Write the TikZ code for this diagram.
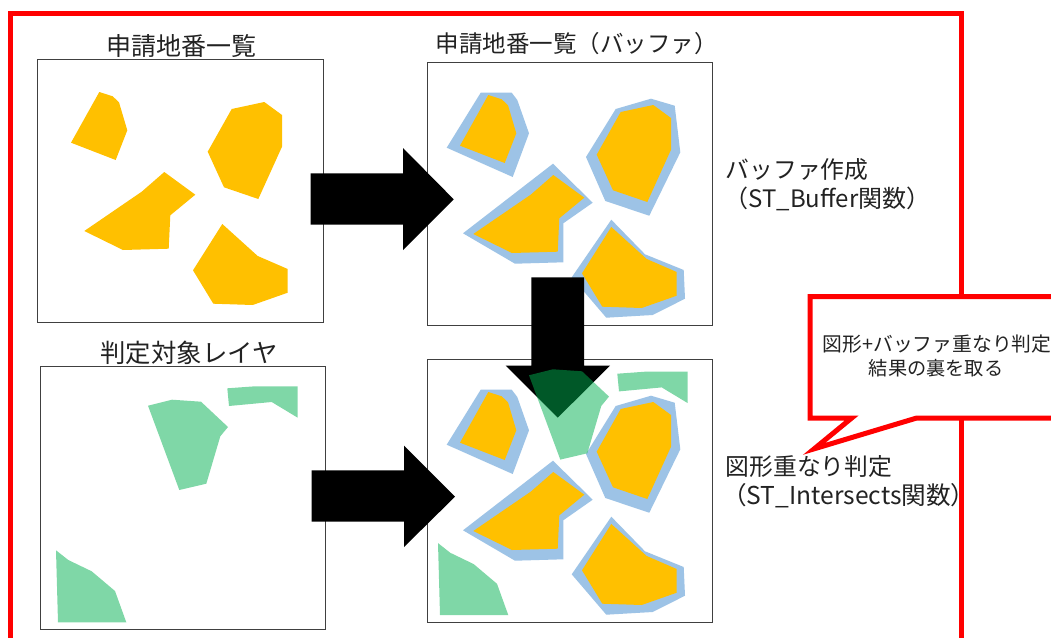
\documentclass[tikz,border=0pt]{standalone}
\usepackage{fontspec}
\setmainfont{Noto Sans CJK JP}
\definecolor{parcelc}{HTML}{FFC000}
\definecolor{bufferc}{HTML}{9DC3E6}
\definecolor{targetc}{HTML}{00B050}
\definecolor{inkc}{HTML}{222222}
\newcommand{\parcelset}{%
  \fill[parcel] (99.3,92) -- (112.7,96.3) -- (119,102.3) -- (127.3,130.3) -- (115.7,160) -- (71,142.7) -- cycle;
  \fill[parcel] (231.7,109) -- (264.3,102) -- (282,115) -- (282,146.7) -- (258.3,199) -- (224,187.3) -- (207.7,151.7) -- cycle;
  \fill[parcel] (164.3,172) -- (195.3,194.7) -- (170.3,215.3) -- (168.7,248.7) -- (123,250) -- (84.3,231) -- (141.7,191.7) -- cycle;
  \fill[parcel] (222.3,224) -- (257.7,256) -- (287.7,269) -- (287.7,292.7) -- (252.7,305) -- (213.3,303.7) -- (193,270.3) -- cycle;
}
\newcommand{\bufferset}{%
  \fill[buffer] (480.7,92.7) -- (511.7,92.7) -- (517.3,100) -- (529,133.3) -- (512.7,177) -- (446.7,147.7) -- cycle;
  \fill[buffer] (615.7,109) -- (651,98.7) -- (674.7,105.7) -- (680.3,152.3) -- (649.3,215.7) -- (605.3,201) -- (586,157) -- cycle;
  \fill[buffer] (553,163.7) -- (592.7,202.7) -- (563.3,223.3) -- (563.3,262.3) -- (515,263.7) -- (463,233.3) -- cycle;
  \fill[buffer] (611.3,219.7) -- (645,254.3) -- (683.7,270) -- (685,298.7) -- (652.7,315) -- (606.3,317.7) -- (571.7,277.3) -- cycle;
}
\tikzset{
  x=1pt,y=-1pt,
  parcel/.style={fill=parcelc},
  buffer/.style={fill=bufferc},
  target/.style={fill=targetc,fill opacity=0.5},
  mapbox/.style={draw=black!75,line width=1pt,fill=white},
  bigarrow/.style={fill=black},
  redline/.style={draw=red,line width=5pt,miter limit=20},
  label/.style={inner sep=0pt,text=inkc,font=\fontsize{25}{28}\selectfont},
  sidelabel/.style={inner sep=0pt,anchor=west,text=inkc,font=\fontsize{23.8}{27}\selectfont},
  notelabel/.style={inner sep=0pt,text=inkc,font=\fontsize{19.2}{22}\selectfont}
}
\begin{document}
\begin{tikzpicture}
\clip (0,0) rectangle (1051,637);
\fill[white] (0,0) rectangle (1051,637);
% outer frame
\draw[redline] (10.7,660) -- (10.7,13) -- (961,13) -- (961,660);
% map boxes
\draw[mapbox] (37.5,59.5) rectangle (323,322);
\draw[mapbox] (427,62.7) rectangle (712.3,325);
\draw[mapbox] (40.5,366.3) rectangle (325.7,629);
\draw[mapbox] (427,359.3) rectangle (712.3,622);
% top left
\parcelset
% top right
\bufferset
\begin{scope}[shift={(389,3)}]\parcelset\end{scope}
% bottom right
\begin{scope}[shift={(0,297)}]\bufferset\end{scope}
\begin{scope}[shift={(389,300)}]\parcelset\end{scope}
% arrows
\fill[bigarrow] (310.5,173.3) -- (403,173.3) -- (403,148) -- (453.7,199.3) -- (403,250) -- (403,224.7) -- (310.5,224.7) -- cycle;
\fill[bigarrow] (311.5,470.3) -- (404,470.3) -- (404,445.5) -- (455,496.7) -- (404,547) -- (404,521.7) -- (311.5,521.7) -- cycle;
\fill[bigarrow] (531.3,277.3) -- (584,277.3) -- (584,365.7) -- (610,365.7) -- (557.7,417.7) -- (505.7,365.7) -- (531.3,365.7) -- cycle;
% target layer
\fill[target] (148,405.7) -- (172,399.7) -- (201,401.7) -- (228,427) -- (220.3,436.3) -- (206.3,483.7) -- (179.3,490) -- cycle;
\fill[target] (227.3,388.3) -- (255,386.3) -- (297.7,386.3) -- (297.7,417.7) -- (271.7,402) -- (229,406) -- cycle;
\fill[target] (56,550.3) -- (68.3,560) -- (91.7,571.3) -- (115,591) -- (126.3,622.3) -- (58,622.3) -- cycle;
\begin{scope}[shift={(381,-30.4)}]
\fill[target] (148,405.7) -- (172,399.7) -- (201,401.7) -- (228,427) -- (220.3,436.3) -- (206.3,483.7) -- (179.3,490) -- cycle;
\end{scope}
\begin{scope}[shift={(390,-14.6)}]
\fill[target] (227.3,388.3) -- (255,386.3) -- (297.7,386.3) -- (297.7,417.7) -- (271.7,402) -- (229,406) -- cycle;
\end{scope}
\begin{scope}[shift={(382,-7.2)}]
\fill[target] (56,550.3) -- (68.3,560) -- (91.7,571.3) -- (115,591) -- (126.3,622.3) -- (58,622.3) -- cycle;
\end{scope}
% callout
\draw[redline,fill=white] (810,296.5) -- (1070,296.5) -- (1070,418) -- (916.7,418) -- (814.2,448.8) -- (851.7,418) -- (810,418) -- cycle;
% labels
\node[label] (t1) at (181,45.5) {申請地番一覧};
\node[label,anchor=west,font=\fontsize{23.5}{28}\selectfont] (t2) at (435.5,43.5) {申請地番一覧（バッファ）};
\node[label,font=\fontsize{25.4}{28}\selectfont] (t3) at (189,353) {判定対象レイヤ};
\node[sidelabel] (s1) at (725.5,170) {バッファ作成};
\node[sidelabel,font=\fontsize{24}{27}\selectfont] (s2) at (724.4,199) {（ST\_Buffer関数）};
\node[sidelabel] (s3) at (725.5,467) {図形重なり判定};
\node[sidelabel,font=\fontsize{24.6}{27}\selectfont] (s4) at (722,496) {（ST\_Intersects関数）};
\node[notelabel,font=\fontsize{19.8}{22}\selectfont] (n1) at (937,344) {図形+バッファ重なり判定};
\node[notelabel] (n2) at (936,368) {結果の裏を取る};
\end{tikzpicture}
\end{document}
